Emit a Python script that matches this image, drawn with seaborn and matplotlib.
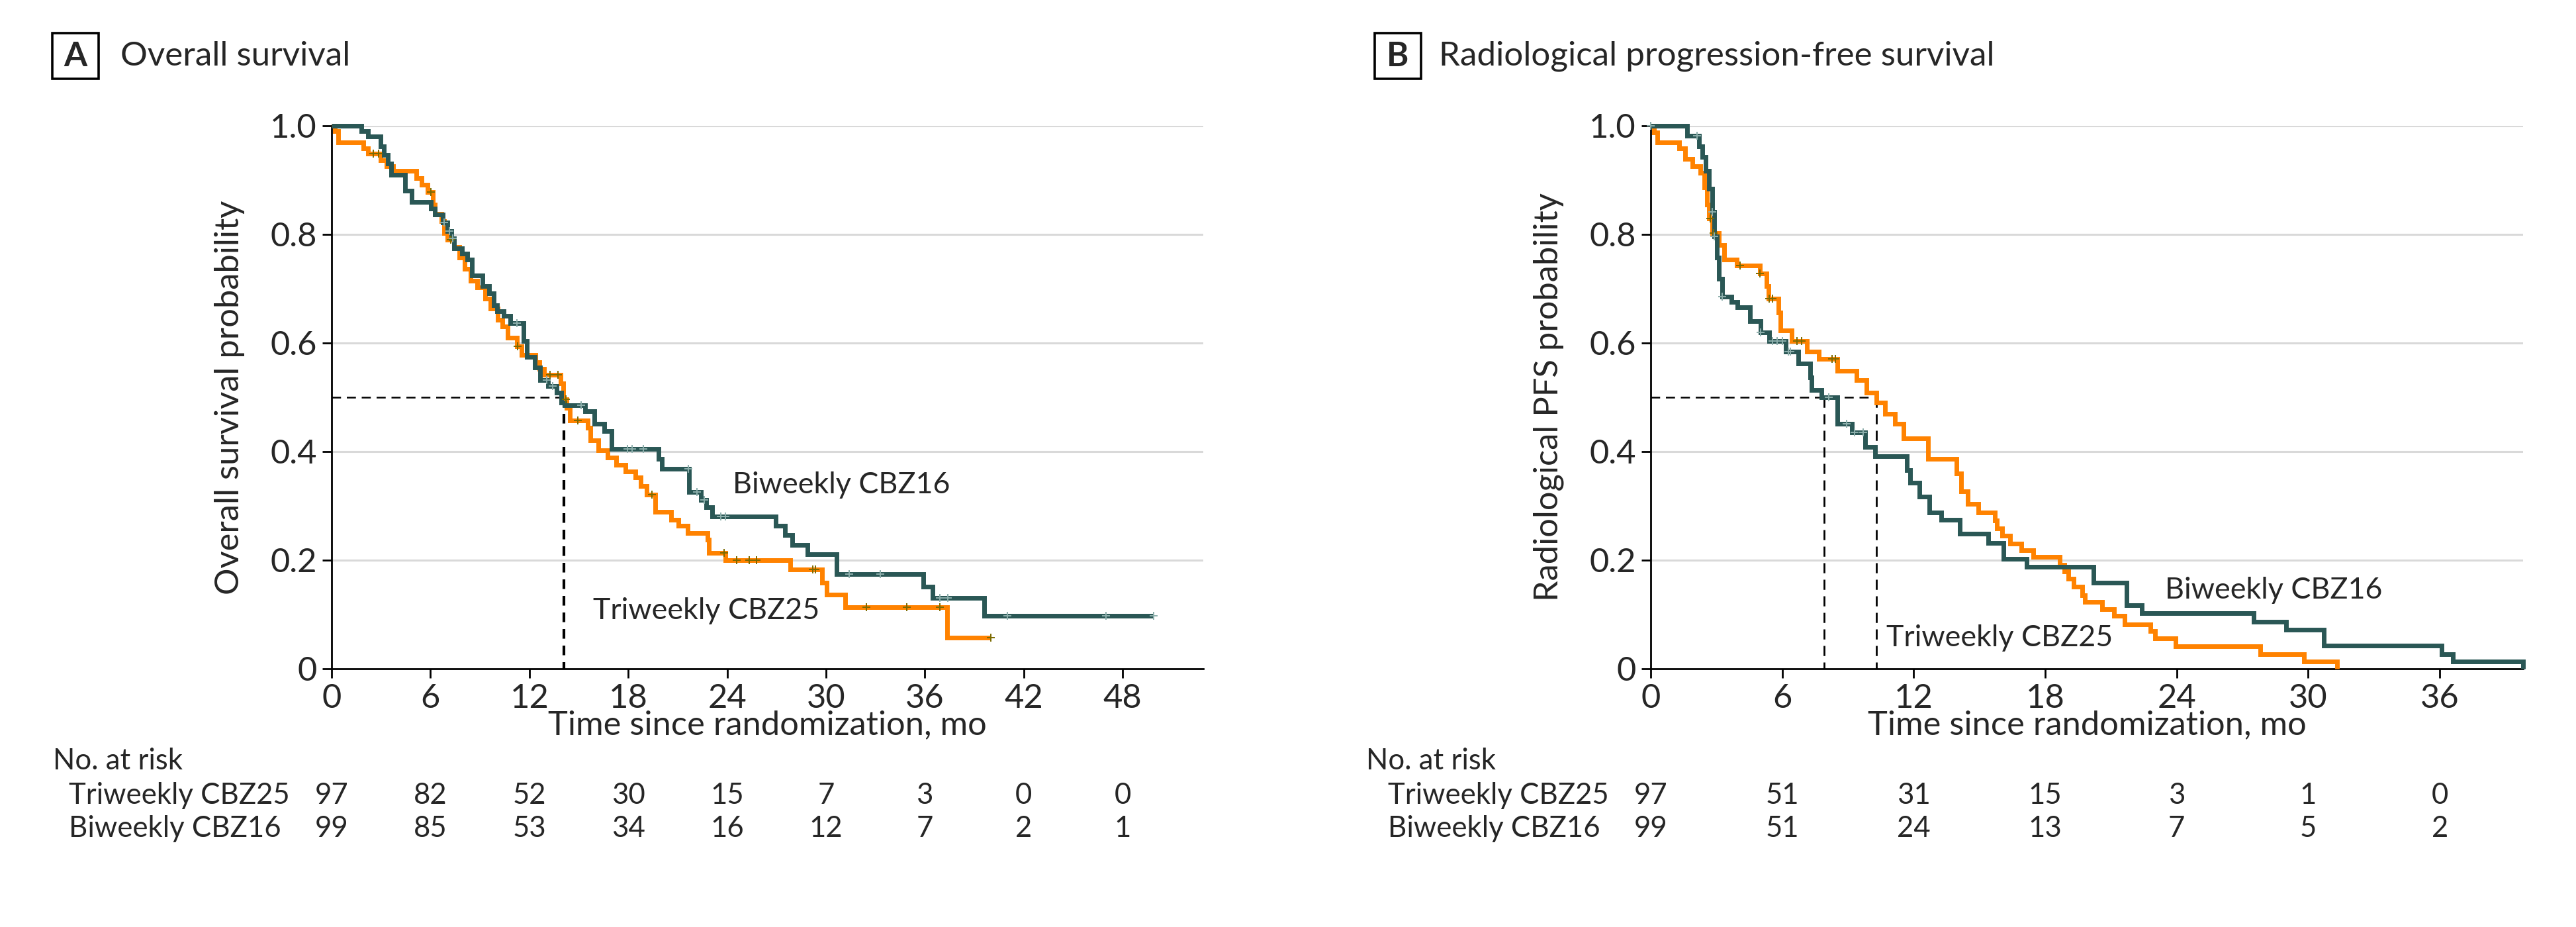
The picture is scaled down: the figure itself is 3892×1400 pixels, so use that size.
import numpy as np
import pandas as pd
import seaborn as sns
import matplotlib.pyplot as plt
from matplotlib.patches import Rectangle
from matplotlib.textpath import TextPath
from matplotlib.font_manager import FontProperties

# ---- data ----
arms = ['Triweekly CBZ25', 'Biweekly CBZ16']

# Panel A: overall survival, Kaplan-Meier steps (time in months, survival)
os_tri_t = [0, 0.2, 0.4, 1.92, 2.19, 2.99, 3.33, 3.73, 5.14, 5.48, 5.81, 6.15, 6.28, 6.68, 6.82, 7.02,
            7.42, 7.76, 8.09, 8.43, 8.83, 9.30, 9.64, 10.10, 10.38, 10.70, 11.25, 11.52, 12.39, 12.60,
            12.90, 13.90, 14.07, 14.27, 14.47, 15.54, 15.70, 16.20, 16.75, 17.29, 17.83, 18.43, 18.77,
            19.10, 19.64, 20.60, 21.06, 21.60, 22.80, 22.90, 23.90, 27.83, 29.77, 30.04, 31.18, 37.34, 40.0]
os_tri_s = [1.0, 0.990, 0.969, 0.959, 0.949, 0.936, 0.926, 0.917, 0.904, 0.891, 0.878, 0.855, 0.838, 0.825,
            0.803, 0.790, 0.777, 0.757, 0.737, 0.715, 0.702, 0.682, 0.663, 0.643, 0.630, 0.610, 0.594,
            0.578, 0.565, 0.552, 0.542, 0.526, 0.496, 0.480, 0.457, 0.444, 0.421, 0.402, 0.389, 0.376,
            0.363, 0.352, 0.337, 0.321, 0.289, 0.275, 0.263, 0.250, 0.238, 0.214, 0.200, 0.183, 0.159,
            0.137, 0.114, 0.057, 0.057]
os_tri_cens = [2.52, 2.86, 6.01, 7.22, 11.3, 13.26, 13.73, 14.2, 14.94, 19.44, 23.8, 24.6, 25.35, 25.8,
               29.2, 29.35, 32.45, 34.9, 36.9, 40.0]

os_bi_t = [0, 1.79, 2.19, 2.99, 3.17, 3.40, 3.60, 4.47, 4.87, 6.01, 6.28, 6.75, 7.02, 7.29, 7.42, 7.90,
           8.23, 8.50, 9.17, 9.57, 9.84, 10.04, 10.44, 10.85, 11.65, 11.85, 12.32, 12.66, 13.13, 13.66,
           13.93, 14.13, 15.40, 15.95, 16.55, 17.00, 19.84, 20.04, 21.70, 22.40, 22.75, 23.10, 26.96,
           27.50, 27.96, 28.90, 30.64, 35.90, 36.47, 39.60, 49.90]
os_bi_s = [1.0, 0.990, 0.980, 0.962, 0.946, 0.930, 0.910, 0.881, 0.860, 0.848, 0.836, 0.822, 0.806, 0.793,
           0.775, 0.765, 0.754, 0.724, 0.705, 0.691, 0.669, 0.659, 0.650, 0.636, 0.604, 0.575, 0.555,
           0.532, 0.521, 0.509, 0.490, 0.485, 0.474, 0.451, 0.438, 0.405, 0.387, 0.368, 0.326, 0.311,
           0.297, 0.281, 0.263, 0.246, 0.228, 0.211, 0.175, 0.151, 0.130, 0.098, 0.098]
os_bi_cens = [6.82, 7.15, 7.36, 11.25, 13.06, 13.4, 15.14, 17.96, 18.23, 18.9, 21.65, 22.17, 22.6, 23.6,
              23.9, 31.4, 33.3, 36.9, 37.4, 41.0, 47.0, 49.9]

# Panel B: radiological progression-free survival
pfs_tri_t = [0, 0.15, 0.30, 1.30, 1.56, 1.91, 2.26, 2.46, 2.56, 2.66, 2.81, 3.11, 3.36, 3.92, 4.97, 5.27,
             5.37, 5.82, 5.92, 6.43, 7.13, 7.68, 8.53, 9.39, 9.84, 10.29, 10.69, 11.14, 11.55, 12.65,
             13.96, 14.16, 14.46, 14.96, 15.69, 15.79, 16.04, 16.40, 16.90, 17.45, 18.66, 18.86, 19.06,
             19.30, 19.70, 19.80, 20.60, 21.13, 21.63, 22.80, 23.00, 23.95, 27.80, 29.80, 31.30]
pfs_tri_s = [1.0, 0.988, 0.969, 0.959, 0.939, 0.926, 0.913, 0.887, 0.855, 0.829, 0.803, 0.780, 0.754,
             0.743, 0.728, 0.705, 0.682, 0.656, 0.623, 0.604, 0.584, 0.571, 0.549, 0.532, 0.509, 0.490,
             0.470, 0.451, 0.425, 0.386, 0.360, 0.327, 0.304, 0.288, 0.273, 0.259, 0.245, 0.230, 0.218,
             0.206, 0.192, 0.179, 0.166, 0.151, 0.135, 0.123, 0.110, 0.097, 0.082, 0.070, 0.056, 0.042,
             0.027, 0.014, 0.0]
pfs_tri_cens = [2.71, 2.86, 4.07, 4.97, 5.42, 5.57, 6.68, 6.88, 8.28, 8.43]

pfs_bi_t = [0, 1.66, 2.21, 2.36, 2.51, 2.66, 2.81, 2.91, 3.01, 3.11, 3.26, 3.67, 3.97, 4.52, 5.02, 5.42,
            6.17, 6.73, 7.28, 7.33, 7.78, 8.53, 9.19, 9.79, 10.24, 11.70, 11.85, 12.25, 12.70, 13.25,
            14.10, 15.40, 16.10, 17.15, 20.20, 21.70, 22.40, 27.50, 29.00, 30.70, 36.10, 36.60, 39.80]
pfs_bi_s = [1.0, 0.982, 0.962, 0.943, 0.917, 0.884, 0.842, 0.796, 0.757, 0.718, 0.685, 0.676, 0.666,
            0.640, 0.620, 0.604, 0.584, 0.562, 0.536, 0.513, 0.500, 0.451, 0.435, 0.408, 0.392, 0.366,
            0.343, 0.317, 0.288, 0.275, 0.249, 0.232, 0.202, 0.188, 0.159, 0.117, 0.103, 0.086, 0.072,
            0.043, 0.027, 0.014, 0.0]
pfs_bi_cens = [0.0, 2.11, 2.81, 2.91, 3.26, 5.02, 5.57, 5.77, 6.02, 6.27, 6.38, 8.13, 8.94, 9.29, 9.69]

# medians (months)
os_medians = [14.1]
pfs_medians = [7.9, 10.3]

# numbers at risk
os_risk_times = [0, 6, 12, 18, 24, 30, 36, 42, 48]
os_risk_tri = [97, 82, 52, 30, 15, 7, 3, 0, 0]
os_risk_bi = [99, 85, 53, 34, 16, 12, 7, 2, 1]
pfs_risk_times = [0, 6, 12, 18, 24, 30, 36]
pfs_risk_tri = [97, 51, 31, 15, 3, 1, 0]
pfs_risk_bi = [99, 51, 24, 13, 7, 5, 2]

colors = {'Triweekly CBZ25': '#FF8200', 'Biweekly CBZ16': '#2A5755'}
cens_colors = {'Triweekly CBZ25': '#7A6A00', 'Biweekly CBZ16': '#8DAFAC'}

# ---- style ----
sns.set_theme(style='white')
FONT = ['Lato', 'DejaVu Sans']
plt.rcParams['font.family'] = FONT

W, H, DPI = 3892, 1400, 200
fig = plt.figure(figsize=(W / DPI, H / DPI), dpi=DPI)


def fit_size(text, target_px, ref=20, weight='normal'):
    # font size (pt) that makes `text` about target_px wide
    fp = FontProperties(family=FONT, size=ref, weight=weight)
    w = TextPath((0, 0), text, prop=fp).get_extents().width
    return ref * target_px / (w * DPI / 72)


FS = fit_size('Time since randomization, mo', 660)
FS_RISK = fit_size('Triweekly CBZ25', 330)
FS_LBL = fit_size('Biweekly CBZ16', 323)
FS_TITLE = fit_size('Overall survival', 341)


def fx(px):
    return px / W


def fy(py):
    return 1 - py / H


def step_at(t, ts, ss):
    i = np.searchsorted(ts, t, side='right') - 1
    return ss[max(i, 0)]


def km_panel(ax, curves, xmax, ticks, medians, ylabel, labels):
    rows = []
    for arm, (ts, ss, cs) in curves.items():
        assert len(ts) == len(ss)
        rows.append(pd.DataFrame({'time': ts, 'surv': ss, 'arm': arm}))
    df = pd.concat(rows, ignore_index=True)

    for y in [0.2, 0.4, 0.6, 0.8, 1.0]:
        ax.axhline(y, color='#D9D9D9', lw=1.1, zorder=0)

    # median reference lines
    ax.plot([0, max(medians)], [0.5, 0.5], color='black', lw=0.9, dashes=(5.5, 3.5), zorder=1)
    for m in medians:
        ax.plot([m, m], [0.5, 0], color='black', lw=1.0 if len(medians) > 1 else 1.5,
                dashes=(5.5, 3.5) if len(medians) > 1 else (3.5, 2.5), zorder=1)

    sns.lineplot(data=df, x='time', y='surv', hue='arm', hue_order=arms, palette=colors,
                 estimator=None, drawstyle='steps-post', linewidth=2.5, legend=False, ax=ax,
                 solid_joinstyle='miter', solid_capstyle='butt', zorder=3)
    for c in ax.lines[-2:]:
        c.set_clip_on(False)

    for arm, (ts, ss, cs) in curves.items():
        ys = [step_at(c, ts, ss) for c in cs]
        ax.plot(cs, ys, '+', color=cens_colors[arm], ms=4.5, mew=0.7, zorder=4, clip_on=False)

    for text, (tx, ty) in labels.items():
        ax.text(tx, ty, text, fontsize=FS_LBL, va='center', ha='left')

    ax.set_xlim(0, xmax)
    ax.set_ylim(0, 1.0)
    ax.set_xticks(ticks)
    ax.set_xticklabels([str(t) for t in ticks])
    ax.set_yticks([0, 0.2, 0.4, 0.6, 0.8, 1.0])
    ax.set_yticklabels(['0', '0.2', '0.4', '0.6', '0.8', '1.0'])
    ax.tick_params(axis='both', direction='out', length=5, width=1, color='black',
                   labelsize=FS, pad=3, bottom=True, left=True)
    for s in ['top', 'right']:
        ax.spines[s].set_visible(False)
    for s in ['left', 'bottom']:
        ax.spines[s].set_color('black')
        ax.spines[s].set_linewidth(1.0)
    ax.set_xlabel('Time since randomization, mo', fontsize=FS, va='center')
    ax.xaxis.set_label_coords(0.5, -0.104)
    ax.set_ylabel(ylabel, fontsize=FS, va='center')
    ax.yaxis.set_label_coords(-0.117, 0.5)
    ax.set_facecolor('white')


def risk_table(ax, times, tri, bi, x_title, x_rows):
    fig.text(fx(x_title), fy(1150), 'No. at risk', fontsize=FS_RISK, va='center', ha='left')
    for arm, vals, py in [(arms[0], tri, 1201), (arms[1], bi, 1251)]:
        fig.text(fx(x_rows), fy(py), arm, fontsize=FS_RISK, va='center', ha='left')
        for t, v in zip(times, vals):
            ax.text(t, (1010 - py) / 820, str(v), transform=ax.get_xaxis_transform(),
                    fontsize=FS_RISK, va='center', ha='center')


def panel_title(letter, title, x_box, x_title):
    fig.patches.append(Rectangle((fx(x_box), fy(119)), 70 / W, 69 / H, transform=fig.transFigure,
                                 fill=False, ec='black', lw=1.3))
    fig.text(fx(x_box + 35), fy(85), letter, fontsize=FS, fontweight='bold', ha='center', va='center')
    fig.text(fx(x_title), fy(85), title, fontsize=FS_TITLE, ha='left', va='center')


axA = fig.add_axes([fx(501), fy(1010), 1317 / W, 820 / H])
axB = fig.add_axes([fx(2494), fy(1010), 1318 / W, 820 / H])

km_panel(axA,
         {arms[0]: (os_tri_t, os_tri_s, os_tri_cens), arms[1]: (os_bi_t, os_bi_s, os_bi_cens)},
         52.9, os_risk_times, os_medians, 'Overall survival probability',
         {'Biweekly CBZ16': (24.35, 0.338), 'Triweekly CBZ25': (15.85, 0.107)})
km_panel(axB,
         {arms[0]: (pfs_tri_t, pfs_tri_s, pfs_tri_cens), arms[1]: (pfs_bi_t, pfs_bi_s, pfs_bi_cens)},
         39.8, pfs_risk_times, pfs_medians, 'Radiological PFS probability',
         {'Biweekly CBZ16': (23.45, 0.145), 'Triweekly CBZ25': (10.75, 0.057)})

risk_table(axA, os_risk_times, os_risk_tri, os_risk_bi, 80, 104)
risk_table(axB, pfs_risk_times, pfs_risk_tri, pfs_risk_bi, 2064, 2097)

panel_title('A', 'Overall survival', 79, 182)
panel_title('B', 'Radiological progression-free survival', 2077, 2174)

fig.savefig('out.png', dpi=DPI, facecolor='white')
